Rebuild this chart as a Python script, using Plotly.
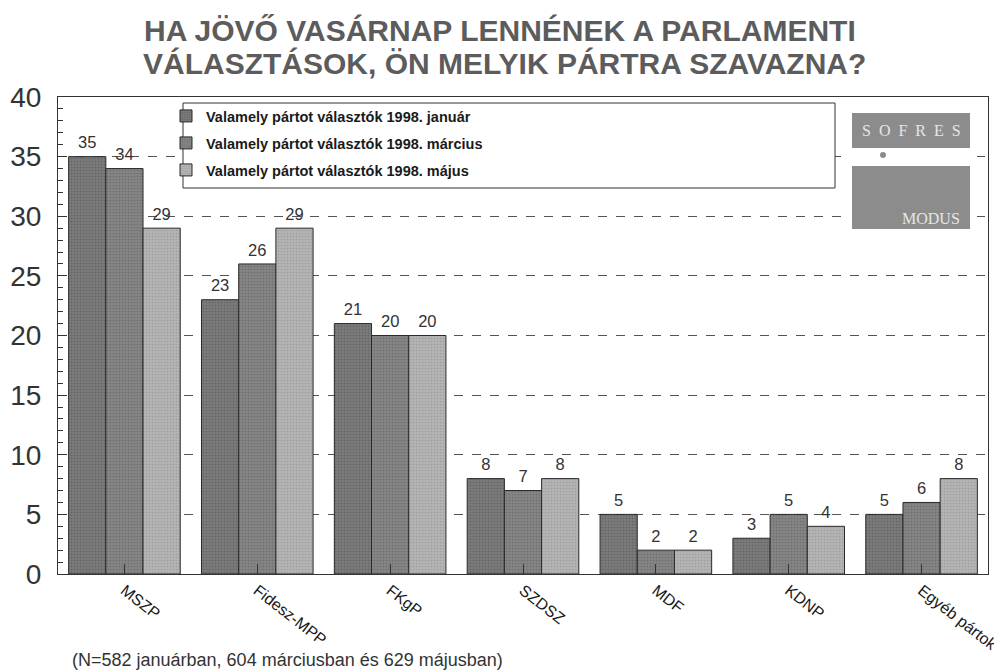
import plotly.graph_objects as go

categories = ["MSZP", "Fidesz-MPP", "FKgP", "SZDSZ", "MDF", "KDNP", "Egyéb pártok"]
series_names = [
    "Valamely pártot választók 1998. január",
    "Valamely pártot választók 1998. március",
    "Valamely pártot választók 1998. május",
]
jan_values = [35, 23, 21, 8, 5, 3, 5]
mar_values = [34, 26, 20, 7, 2, 5, 6]
may_values = [29, 29, 20, 8, 2, 4, 8]
y_ticks = [0, 5, 10, 15, 20, 25, 30, 35, 40]

title_lines = ["HA JÖVŐ VASÁRNAP LENNÉNEK A PARLAMENTI",
               "VÁLASZTÁSOK, ÖN MELYIK PÁRTRA SZAVAZNA?"]
footnote_text = "(N=582 januárban, 604 márciusban és 629 májusban)"

# page body has an 8px margin: figure is drawn offset by (8, 8)
OFF = 8
W, H = 1002 - OFF, 671 - OFF
# plot area in page pixels
PL, PR, PT, PB = 58, 988, 97, 574
PW, PH = PR - PL, PB - PT
ML, MR, MT, MB = PL - OFF, W - (PR - OFF), PT - OFF, H - (PB - OFF)


def px(x):
    return (x - PL) / PW


def py(y):
    return (PB - y) / PH


fills = ["#7a7a7a", "#858585", "#b4b4b4"]
grains = ["#4a4a4a", "#555555", "#888888"]
legend_ids = ["legend", "legend2", "legend3"]
legend_rows = [116, 143, 170]
GAP = 0.16

fig = go.Figure()
all_values = [jan_values, mar_values, may_values]
for i, (name, vals, col, gr, lid) in enumerate(zip(series_names, all_values,
                                                    fills, grains, legend_ids)):
    fig.add_trace(go.Bar(
        name=name, x=categories, y=vals, legend=lid, offsetgroup=str(i),
        marker=dict(color=col, line=dict(color="#2a2a2a", width=1),
                    pattern=dict(shape=".", fgcolor=gr, bgcolor=col, size=3,
                                 solidity=0.25, fillmode="overlay")),
    ))
for i, vals in enumerate(all_values):
    fig.add_trace(go.Scatter(
        x=categories, y=vals, mode="markers+text", offsetgroup=str(i),
        text=[str(v) for v in vals], textposition="top center",
        textfont=dict(family="Liberation Sans, Arial", size=16.5, color="#333333"),
        marker=dict(size=5, opacity=0), showlegend=False, hoverinfo="skip",
        cliponaxis=False,
    ))

shapes = []
shapes.append(dict(type="rect", xref="paper", yref="paper",
                   x0=px(183), x1=px(835), y0=py(188), y1=py(103),
                   fillcolor="white", line=dict(color="#333333", width=1), layer="above"))
shapes.append(dict(type="rect", xref="paper", yref="paper",
                   x0=px(846), x1=px(977), y0=py(236), y1=py(104),
                   fillcolor="white", line=dict(width=0), layer="above"))
shapes.append(dict(type="rect", xref="paper", yref="paper",
                   x0=px(852), x1=px(970), y0=py(148), y1=py(113),
                   fillcolor="#8c8c8c", line=dict(width=0), layer="above"))
shapes.append(dict(type="rect", xref="paper", yref="paper",
                   x0=px(852), x1=px(970), y0=py(229), y1=py(166),
                   fillcolor="#8c8c8c", line=dict(width=0), layer="above"))
shapes.append(dict(type="circle", xref="paper", yref="paper",
                   x0=px(880), x1=px(886), y0=py(158), y1=py(152),
                   fillcolor="#8c8c8c", line=dict(width=0), layer="above"))

annotations = [
    dict(text=title_lines[0], xref="paper", yref="paper", x=px(500), y=py(30),
         xanchor="center", yanchor="middle", showarrow=False,
         font=dict(family="Liberation Sans, Arial", size=30, color="#5c5c5c", weight="bold")),
    dict(text=title_lines[1], xref="paper", yref="paper", x=px(504), y=py(63),
         xanchor="center", yanchor="middle", showarrow=False,
         font=dict(family="Liberation Sans, Arial", size=30, color="#5c5c5c", weight="bold")),
    dict(text="S  O  F  R  E  S", xref="paper", yref="paper", x=px(911), y=py(130),
         xanchor="center", yanchor="middle", showarrow=False,
         font=dict(family="Liberation Serif, Times New Roman", size=16, color="#e6e6e6")),
    dict(text="MODUS", xref="paper", yref="paper", x=px(931), y=py(218),
         xanchor="center", yanchor="middle", showarrow=False,
         font=dict(family="Liberation Serif, Times New Roman", size=16, color="#e6e6e6")),
    dict(text=footnote_text, xref="paper", yref="paper", x=px(70), y=py(660),
         xanchor="left", yanchor="middle", showarrow=False,
         font=dict(family="Liberation Sans, Arial", size=18, color="#333333")),
]

layout_legends = {}
for lid, row in zip(legend_ids, legend_rows):
    layout_legends[lid] = dict(
        x=px(166), y=py(row), xanchor="left", yanchor="middle",
        bgcolor="rgba(0,0,0,0)", borderwidth=0,
        font=dict(family="Liberation Sans, Arial", size=14.5, color="#1a1a1a", weight="bold"),
    )

fig.update_layout(
    width=W, height=H,
    margin=dict(l=ML, r=MR, t=MT, b=MB, autoexpand=False),
    paper_bgcolor="white", plot_bgcolor="white",
    barmode="group", bargap=GAP, bargroupgap=0,
    scattermode="group", scattergap=GAP,
    shapes=shapes,
    annotations=annotations,
    showlegend=True,
    **layout_legends,
)

fig.update_yaxes(
    range=[0, 40], tickvals=y_ticks, ticks="inside", ticklen=9, tickcolor="#333333",
    showline=True, linecolor="#333333", linewidth=1, mirror=True,
    showgrid=True, gridcolor="#555555", griddash="dash", gridwidth=1,
    tickfont=dict(family="Liberation Sans, Arial", size=28, color="#333333"),
    ticklabelstandoff=10, automargin=False,
    minor=dict(dtick=1, ticks="inside", ticklen=5, tickcolor="#333333", showgrid=False),
    zeroline=False,
)
fig.update_xaxes(
    ticks="inside", ticklen=10, tickcolor="#333333",
    showline=True, linecolor="#333333", linewidth=1, mirror=True,
    tickangle=38, automargin=False,
    tickfont=dict(family="Liberation Sans, Arial", size=16, color="#1a1a1a"),
)

fig.write_html("out.html")
